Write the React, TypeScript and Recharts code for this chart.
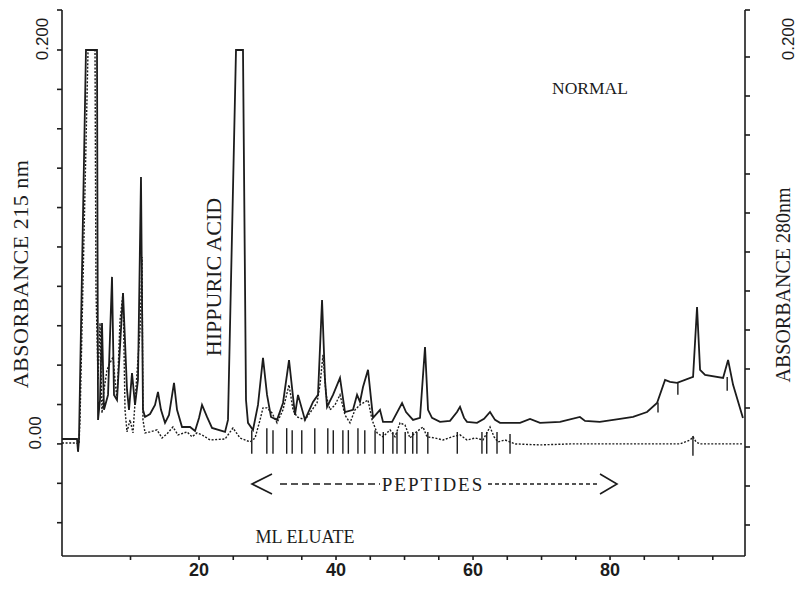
import { LineChart, Line, XAxis, YAxis, ReferenceLine } from "recharts";

// elution volume (ml) and absorbance
const trace215: [number, number][] = [
  [0, 0.0025], [2.19, 0.0025], [2.34, -0.004], [2.48, 0.002], [3.5, 0.2], [5.11, 0.2],
  [5.26, 0.0122], [5.55, 0.0223], [5.84, 0.0614], [6.13, 0.0173], [6.72, 0.0249], [7.3, 0.0848],
  [7.59, 0.0249], [8.03, 0.0223], [8.91, 0.0766], [9.49, 0.0274], [9.78, 0.0173], [10.22, 0.036],
  [10.66, 0.0198], [11.09, 0.0325], [11.53, 0.1355], [11.82, 0.0173], [12.12, 0.0137], [12.85, 0.0152],
  [13.58, 0.0198], [14.01, 0.0264], [14.45, 0.0173], [15.04, 0.0107], [15.62, 0.0147], [16.35, 0.031],
  [16.79, 0.0173], [17.52, 0.0086], [18.69, 0.0086], [19.42, 0.0066], [20.0, 0.0132], [20.44, 0.0198],
  [21.17, 0.0137], [21.9, 0.0081], [23.8, 0.0061], [24.23, 0.0122], [25.4, 0.2], [26.42, 0.2],
  [26.86, 0.0223], [27.15, 0.0107], [27.88, 0.0071], [28.61, 0.0198], [29.34, 0.0437], [29.93, 0.0249],
  [30.51, 0.0137], [31.39, 0.0122], [32.26, 0.0208], [33.14, 0.0426], [34.01, 0.0147], [34.45, 0.0249],
  [35.47, 0.0122], [36.64, 0.0213], [37.37, 0.0249], [37.96, 0.0731], [38.39, 0.0325], [38.69, 0.0188],
  [39.56, 0.0249], [40.58, 0.0335], [41.31, 0.0162], [42.48, 0.0173], [43.07, 0.0249], [43.5, 0.0213],
  [43.94, 0.0289], [44.67, 0.0376], [45.4, 0.0132], [46.42, 0.0173], [46.86, 0.0112], [48.18, 0.0112],
  [49.64, 0.0208], [50.22, 0.0162], [51.24, 0.0122], [52.26, 0.0132], [52.99, 0.0492], [53.43, 0.0173],
  [54.01, 0.0132], [55.18, 0.0112], [56.64, 0.0117], [57.66, 0.0162], [58.1, 0.0188], [58.69, 0.0132],
  [59.12, 0.0112], [60.58, 0.0107], [61.61, 0.0127], [62.48, 0.0162], [63.21, 0.0122], [63.94, 0.0107],
  [66.86, 0.0107], [68.32, 0.0127], [69.78, 0.0107], [72.7, 0.0112], [75.6, 0.0137], [76.35, 0.0117],
  [78.5, 0.0112], [81.46, 0.0127], [83.36, 0.0137], [85.4, 0.0162], [86.86, 0.0208], [88.03, 0.0325],
  [88.76, 0.0315], [89.78, 0.031], [92.12, 0.034], [92.7, 0.0695], [93.14, 0.0376], [93.87, 0.035],
  [96.5, 0.0335], [97.23, 0.0426], [97.96, 0.03], [99.4, 0.0132],
];

const trace280: [number, number][] = [
  [0, 0.0005], [2.04, 0.0005], [2.48, 0], [2.63, 0.0122], [3.8, 0.2], [4.82, 0.2], [4.96, 0.0782],
  [5.26, 0.0325], [5.55, 0.0614], [5.84, 0.0157], [6.13, 0.0274], [6.57, 0.0376], [7.01, 0.0411],
  [7.45, 0.0442], [7.74, 0.0325], [8.03, 0.0223], [8.47, 0.0629], [8.91, 0.0766], [9.2, 0.0173],
  [9.49, 0.0061], [9.93, 0.0122], [10.36, 0.0056], [10.95, 0.036], [11.39, 0.0579], [11.68, 0.0949],
  [11.82, 0.0122], [12.12, 0.0056], [12.85, 0.0061], [13.87, 0.0071], [14.6, 0.003], [15.33, 0.0051],
  [16.2, 0.0086], [16.93, 0.0046], [18.25, 0.0061], [18.98, 0.0036], [19.71, 0.0056], [20.44, 0.0046],
  [21.61, 0.002], [23.8, 0.0025], [24.96, 0.0081], [25.99, 0.003], [27.45, 0.001], [28.18, 0.003],
  [28.91, 0.0122], [29.34, 0.0183], [29.93, 0.0183], [30.66, 0.0157], [31.39, 0.0107], [32.26, 0.0173],
  [33.14, 0.03], [33.72, 0.0173], [34.31, 0.0137], [35.47, 0.0122], [36.5, 0.0173], [37.23, 0.0208],
  [37.66, 0.03], [38.1, 0.0452], [38.54, 0.0249], [39.12, 0.0173], [39.85, 0.0198], [40.58, 0.0249],
  [41.31, 0.0147], [42.04, 0.0107], [42.77, 0.0173], [43.5, 0.0198], [44.67, 0.0223], [45.26, 0.0122],
  [45.99, 0.0056], [46.86, 0.0036], [47.88, 0.0071], [48.61, 0.0036], [49.34, 0.0107], [50.07, 0.0096],
  [50.8, 0.003], [51.53, 0.0056], [52.7, 0.0086], [53.28, 0.0036], [54.45, 0.003], [55.62, 0.002],
  [56.93, 0.0036], [58.1, 0.0046], [59.12, 0.002], [60.29, 0.003], [61.46, 0.002], [62.48, 0.0086],
  [63.07, 0.0036], [63.65, 0.001], [64.67, 0.002], [66.13, 0], [69.78, -0.0005], [74.16, 0],
  [78.54, 0], [84.38, 0], [90.22, 0], [91.68, 0.002], [92.12, 0.0036], [92.55, 0.001], [93.14, 0],
  [99.42, 0],
];

// integrator peak marks: [ml, top, bottom]
const peakMarks: [number, number, number][] = [
  [27.7, 0.007, -0.005], [29.9, 0.008, -0.005], [30.8, 0.007, -0.005], [32.8, 0.008, -0.005],
  [33.6, 0.007, -0.005], [35.0, 0.007, -0.005], [36.9, 0.008, -0.005], [38.8, 0.008, -0.005],
  [39.6, 0.007, -0.005], [41.0, 0.007, -0.005], [41.8, 0.007, -0.005], [43.2, 0.008, -0.005],
  [44.2, 0.007, -0.005], [45.7, 0.007, -0.005], [46.9, 0.006, -0.005], [48.3, 0.006, -0.005],
  [48.9, 0.006, -0.005], [50.1, 0.006, -0.005], [51.2, 0.006, -0.005], [51.8, 0.006, -0.005],
  [53.4, 0.006, -0.005], [57.7, 0.006, -0.005], [61.3, 0.006, -0.005], [62.0, 0.006, -0.005],
  [63.5, 0.006, -0.005], [65.4, 0.005, -0.005], [92.1, 0.004, -0.006],
  [87.0, 0.021, 0.016], [89.9, 0.031, 0.025], [97.1, 0.034, 0.027],
];

const xTicks = [10, 20, 25, 30, 35, 40, 45, 50, 55, 60, 65, 70, 75, 80, 85, 90, 95];
const xLabelled = [20, 40, 60, 80];
const leftTicks = [-0.04, -0.02, 0, 0.02, 0.04, 0.06, 0.08, 0.1, 0.12, 0.14, 0.16, 0.18, 0.2, 0.2203];
const leftLabels: [number, string][] = [[0, "0.00"], [0.2, "0.200"]];
const rightTicks = [-0.04, -0.02, 0, 0.02, 0.04, 0.06, 0.08, 0.1, 0.12, 0.14, 0.16, 0.18, 0.2, 0.2241];
const rightLabels: [number, string][] = [[0.2, "0.200"]];

const ink = "#1c1c1c";
const serif = "'Liberation Serif', 'DejaVu Serif', serif";
const sans = "'Liberation Sans', Arial, sans-serif";

const solidData = trace215.map(([t, a]) => ({ t, a }));
const dottedData = trace280.map(([t, a]) => ({ t, a }));

function XTick({ x, y, payload }: any) {
  if (!xLabelled.includes(payload.value)) return null;
  return (
    <text x={x} y={y + 14} textAnchor="middle" fontFamily={sans} fontWeight="bold" fontSize={18} fill={ink}>
      {payload.value}
    </text>
  );
}

function LeftTick({ y, payload }: any) {
  const hit = leftLabels.find(([v]) => v === payload.value);
  if (!hit) return null;
  const cx = payload.value === 0 ? 36 : 43;
  const cy = y - 11;
  return (
    <text x={cx} y={cy} transform={`rotate(-90 ${cx} ${cy})`} textAnchor="middle" dominantBaseline="central"
      fontFamily={sans} fontSize={17} fill={ink}>
      {hit[1]}
    </text>
  );
}

function RightTick({ y, payload }: any) {
  const hit = rightLabels.find(([v]) => v === payload.value);
  if (!hit) return null;
  const cx = 789;
  const cy = y - 18;
  return (
    <text x={cx} y={cy} transform={`rotate(-90 ${cx} ${cy})`} textAnchor="middle" dominantBaseline="central"
      fontFamily={sans} fontSize={17} fill={ink}>
      {hit[1]}
    </text>
  );
}

export default function App() {
  return (
    <div style={{ position: "relative", width: 798, height: 592, background: "#fff", overflow: "hidden" }}>
      <style>{"html,body{margin:0;padding:0;overflow:hidden}"}</style>
      <LineChart width={798} height={592} margin={{ top: 10, right: 0, bottom: 0, left: 0 }}>
        <XAxis dataKey="t" type="number" domain={[0, 99.7]} ticks={xTicks} tick={<XTick />}
          tickSize={4} height={36} stroke={ink} strokeWidth={1.6} interval={0} allowDataOverflow />
        <YAxis yAxisId="l" type="number" domain={[-0.0569, 0.2203]} ticks={leftTicks} tick={<LeftTick />}
          width={62} tickSize={5} stroke={ink} strokeWidth={1.6} interval={0} allowDataOverflow />
        <YAxis yAxisId="r" orientation="right" type="number" domain={[-0.0559, 0.2241]} ticks={rightTicks}
          tick={<RightTick />} width={53} tickSize={5} stroke={ink} strokeWidth={1.6} interval={0} allowDataOverflow />
        {peakMarks.map(([t, top, bottom], i) => (
          <ReferenceLine key={i} yAxisId="l" segment={[{ x: t, y: top }, { x: t, y: bottom }]}
            stroke={ink} strokeWidth={1.4} ifOverflow="visible" />
        ))}
        <Line yAxisId="l" data={dottedData} dataKey="a" type="linear" dot={false} stroke={ink}
          strokeWidth={1.4} strokeDasharray="2 1.6" isAnimationActive={false} />
        <Line yAxisId="l" data={solidData} dataKey="a" type="linear" dot={false} stroke={ink}
          strokeWidth={1.8} isAnimationActive={false} />
      </LineChart>
      <svg width={798} height={592} style={{ position: "absolute", left: 0, top: 0, pointerEvents: "none" }}>
        <g fill={ink} fontFamily={serif}>
          <text x={20} y={274} transform="rotate(-90 20 274)" textAnchor="middle" dominantBaseline="central"
            fontSize={22} letterSpacing={0.5}>
            ABSORBANCE 215 nm
          </text>
          <text x={783} y={285} transform="rotate(-90 783 285)" textAnchor="middle" dominantBaseline="central"
            fontSize={20}>
            ABSORBANCE 280nm
          </text>
          <text x={213} y={277} transform="rotate(-90 213 277)" textAnchor="middle" dominantBaseline="central"
            fontSize={22}>
            HIPPURIC ACID
          </text>
          <text x={590} y={88} textAnchor="middle" dominantBaseline="central" fontSize={17.5}>NORMAL</text>
          <text x={305} y={537} textAnchor="middle" dominantBaseline="central" fontSize={18}>ML ELUATE</text>
          <text x={433} y={484} textAnchor="middle" dominantBaseline="central" fontSize={19} letterSpacing={2}>
            PEPTIDES
          </text>
        </g>
        <g stroke={ink} fill="none" strokeWidth={1.6}>
          <polyline points="272,474 252,484 272,494" />
          <line x1={280} y1={484} x2={380} y2={484} strokeDasharray="7 4" />
          <line x1={488} y1={484} x2={598} y2={484} strokeDasharray="4 3" />
          <polyline points="600,474 617,484 600,494" />
        </g>
      </svg>
    </div>
  );
}
